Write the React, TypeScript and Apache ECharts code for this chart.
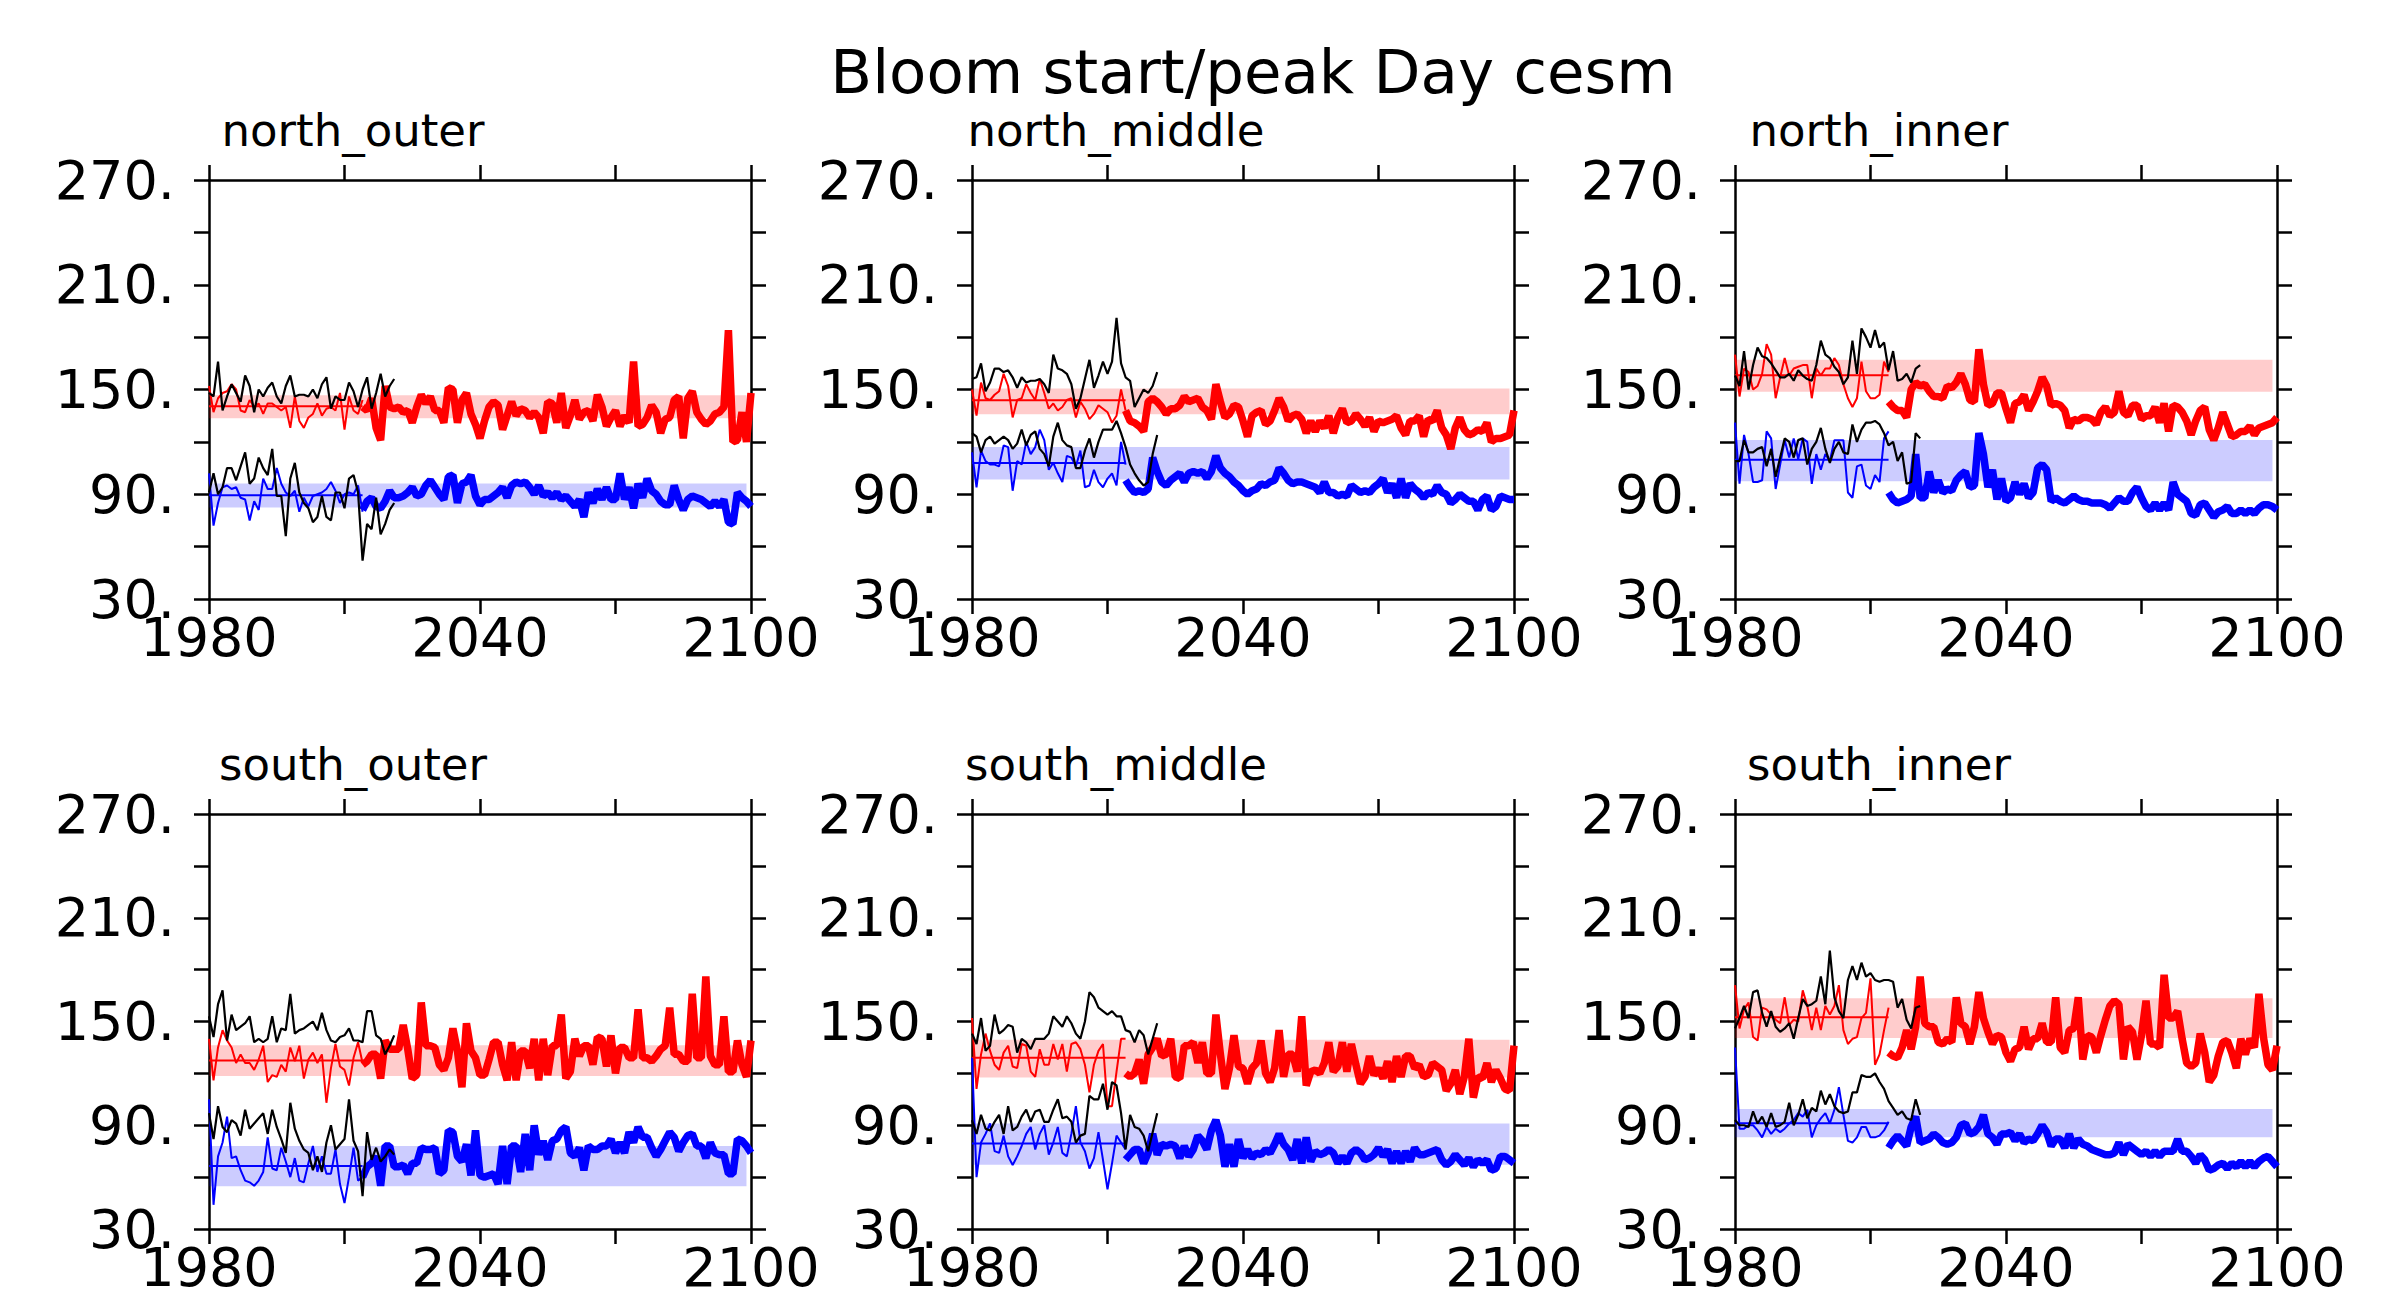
import React, { useEffect, useRef } from "react";
import * as echarts from "echarts";

// ---------- data ----------
const panelNames = ["north_outer", "north_middle", "north_inner", "south_outer", "south_middle", "south_inner"];
const mainTitle = "Bloom start/peak Day cesm";

const thinStartYear = 1980; // thin model / obs lines 1980-2014
const blackStartYear = 1980; // black lines 1980-2021
const thickStartYear = 2014; // thick projections 2014-2100
const meanEndYear = 2014;
const bandEndYear = 2099;

const xTicks = [1980, 2010, 2040, 2070, 2100];
const xLabelled = [1980, 2040, 2100];
const yTicks = [30, 60, 90, 120, 150, 180, 210, 240, 270];
const yLabelled = [30, 90, 150, 210, 270];

// mean and +/- band per panel
const redMean = [140.4, 143.8, 158.1, 127.5, 129, 152.5];
const redLow = [133.6, 135.8, 148.7, 118.5, 117.6, 140.5];
const redHigh = [146.7, 150.6, 167, 136.3, 139.5, 163.4];
const blueMean = [89.4, 107.9, 109.8, 66.5, 79.5, 91.1];
const blueLow = [82.4, 98.5, 97.5, 54.7, 67.1, 83.1];
const blueHigh = [96.1, 117, 121.1, 78, 91, 99.4];

// ---- north_outer ----
const noThinRed = [152,137,145,148,149,153,150,138,137,144,140,142,136,142,142,140,138,140,128,146,132,128,134,136,142,135,139,140,138,148,127,146,138,136,144];
const noThinBlue = [102,72,85,94,95,93,94,88,87,75,86,81,99,93,93,105,96,91,89,92,80,88,83,89,90,91,93,97,92,85,90,91,90,95,80];
const noBlackUpper = [148,146,166,138,146,153,148,143,158,152,137,150,146,151,154,146,142,152,158,146,147,147,146,150,145,153,157,139,146,144,144,154,149,140,150,157,139,148,159,146,152,156];
const noBlackLower = [91,102,90,94,105,105,98,106,114,96,99,111,105,101,116,89,89,66,99,108,91,85,82,74,77,89,77,75,91,91,82,99,101,91,52,73,70,88,67,73,81,85];
const noThickRed = [140,138,145,128,121,152,140,139,140,137,138,131,140,147,142,146,138,138,131,151,150,131,144,148,136,130,122,132,140,143,141,127,135,143,135,139,138,134,137,134,125,143,142,131,148,128,135,144,133,137,138,132,147,140,129,134,138,129,135,131,166,129,130,134,141,137,125,133,134,144,146,122,145,149,137,133,130,132,136,137,140,184,120,121,137,120,148];
const noThickBlue = [81,86,88,83,82,86,92,88,88,89,91,94,89,90,95,98,94,90,87,100,101,85,96,97,101,89,84,87,87,89,91,94,88,95,97,96,97,94,90,95,89,91,88,91,87,89,86,83,87,77,91,85,93,87,94,87,87,102,87,94,82,96,88,99,92,90,86,84,84,95,87,81,87,89,88,87,85,83,86,83,87,74,73,91,88,86,83];

// ---- north_middle ----
const nmThinRed = [150,135,154,145,144,147,149,159,152,134,144,145,153,148,144,156,148,139,142,138,140,144,145,134,143,139,133,136,141,139,137,131,135,150,138];
const nmThinBlue = [114,94,115,109,107,107,106,118,117,92,109,107,120,113,117,127,121,104,108,102,97,112,111,106,115,94,95,104,97,94,99,102,95,120,107];
const nmBlackUpper = [156,157,165,149,154,162,162,160,161,157,151,157,154,155,155,156,153,148,170,162,161,159,153,139,145,156,167,151,158,166,159,166,191,165,157,155,140,145,150,148,152,160];
const nmBlackLower = [125,123,114,121,123,119,121,123,121,116,119,127,118,124,126,116,113,106,123,131,121,118,117,105,105,115,122,111,120,127,127,127,132,125,117,107,102,98,95,97,113,124];
const nmThickRed = [138,132,131,129,126,143,145,143,140,136,139,139,141,146,143,144,145,140,138,133,153,143,134,136,141,140,132,123,135,137,138,130,132,138,145,140,132,135,136,133,125,132,126,132,128,135,125,134,139,131,132,136,133,129,134,126,132,131,132,133,135,128,124,132,132,135,123,133,132,138,128,124,116,128,134,127,124,125,127,126,131,120,122,122,123,124,138];
const nmThickBlue = [98,94,91,92,91,93,111,103,97,95,98,100,102,97,102,103,102,103,99,103,112,105,102,100,97,95,92,90,92,93,96,95,97,98,105,102,98,96,97,97,96,95,94,91,97,91,91,89,90,89,95,93,91,92,91,94,96,99,91,96,88,99,88,96,93,91,88,91,90,95,91,90,85,87,90,88,86,86,81,87,89,81,83,89,88,87,87];

// ---- north_inner ----
const niThinRed = [170,146,162,160,150,152,159,176,170,145,157,168,158,162,163,164,164,145,162,158,162,162,168,164,153,145,140,145,166,149,145,145,147,166,160];
const niThinBlue = [131,96,124,113,97,97,98,126,122,93,107,121,111,122,110,122,120,96,113,104,113,109,121,121,121,91,88,106,107,95,93,101,97,122,126];
const niBlackUpper = [158,152,172,150,164,174,169,168,165,161,157,157,159,155,161,158,156,155,164,178,170,168,163,160,153,157,178,159,185,180,174,184,174,177,161,172,155,156,159,154,162,164];
const niBlackLower = [109,109,121,114,114,116,117,106,116,100,111,122,120,111,121,122,107,116,120,128,116,108,116,120,114,113,130,120,127,131,131,132,130,125,118,120,109,114,96,97,125,122];
const niThickRed = [143,140,138,138,134,150,154,152,153,149,146,146,145,152,151,154,159,153,144,143,173,153,141,142,148,148,139,131,142,143,147,138,143,149,157,152,141,142,141,138,128,133,132,134,134,133,130,137,140,135,137,149,137,135,141,141,133,135,135,140,131,142,126,141,140,137,132,124,132,138,140,127,121,128,137,130,123,124,126,126,129,124,128,129,130,131,134];
const niThickBlue = [91,87,85,86,87,89,113,88,88,103,91,98,91,93,92,98,101,103,94,95,125,113,94,104,87,99,86,88,97,90,96,88,91,105,107,104,86,88,86,85,87,89,87,86,86,85,85,85,84,82,85,88,86,86,91,94,88,83,81,85,81,85,81,97,90,88,86,79,78,84,85,81,77,80,81,83,79,79,81,79,81,79,82,84,84,83,81];

// ---- south_outer ----
const soThinRed = [140,116,135,145,139,135,126,131,126,126,122,128,136,115,119,118,125,121,135,127,136,117,128,132,126,131,103,123,137,124,122,113,129,138,126];
const soThinBlue = [105,44,72,80,95,71,72,64,58,57,55,58,63,83,65,64,77,69,60,71,58,57,68,78,63,72,62,62,76,56,45,60,77,58,60];
const soBlackUpper = [153,141,160,168,139,154,145,147,149,153,138,140,138,140,153,138,146,145,166,143,145,146,148,150,145,155,145,139,138,141,142,146,139,139,138,156,156,142,140,131,136,142];
const soBlackLower = [97,82,101,89,86,93,91,84,99,88,91,94,97,85,99,89,82,74,103,88,81,76,74,64,72,63,80,90,76,79,82,105,81,75,49,86,70,77,69,72,76,73];
const soThickRed = [125,127,131,131,117,139,134,134,134,148,134,117,119,161,136,136,135,125,122,129,146,133,112,149,133,129,119,119,128,138,138,125,116,138,116,133,133,123,140,116,140,119,136,136,154,117,121,140,130,136,136,125,141,140,124,142,120,135,135,129,129,157,129,129,127,130,134,136,158,131,131,127,127,166,129,129,176,130,125,125,153,121,121,139,125,118,139];
const soThickBlue = [60,66,68,72,55,78,78,66,66,67,62,68,68,77,76,76,77,62,64,87,86,72,69,79,61,87,61,60,61,62,56,78,56,78,78,63,85,64,90,73,81,70,81,82,87,89,74,72,77,64,78,76,76,78,78,82,74,80,74,86,80,89,83,83,77,72,76,81,86,83,75,80,84,85,78,78,71,80,74,73,73,62,62,82,81,78,74];

// ---- south_middle ----
const smThinRed = [152,111,131,143,133,125,122,132,136,124,123,137,136,121,118,134,125,125,137,128,137,121,137,138,134,125,109,125,133,137,101,101,121,140,140];
const smThinBlue = [129,60,80,85,91,75,74,84,72,67,72,78,85,89,76,85,90,73,80,89,74,72,85,101,80,75,65,71,86,70,53,68,84,80,76];
const smBlackUpper = [143,137,152,133,136,154,143,145,148,147,132,140,138,134,140,140,140,143,153,150,147,153,149,143,140,150,167,164,158,156,154,156,153,153,145,144,138,145,142,131,140,149];
const smBlackLower = [93,85,96,88,87,92,96,85,101,87,89,95,99,92,98,99,92,92,99,105,94,95,92,80,84,85,107,105,105,114,99,115,113,97,76,96,89,88,84,75,86,97];
const smThickRed = [120,118,120,128,114,131,135,140,130,131,140,118,117,136,136,138,126,138,120,120,154,131,111,123,142,124,123,114,123,126,139,120,115,123,145,118,131,131,121,153,113,121,122,120,126,138,121,124,138,121,137,125,114,118,130,119,123,117,127,115,130,118,130,130,123,125,118,119,126,124,122,110,114,122,108,118,140,106,118,117,126,115,122,117,111,110,136];
const smThickBlue = [70,73,76,76,68,74,85,73,79,78,79,78,71,78,72,76,84,81,76,87,93,84,66,79,66,82,71,76,71,74,73,76,74,79,85,79,76,70,82,68,83,69,75,73,74,76,74,68,72,68,74,76,74,70,71,73,77,72,76,68,75,68,75,69,77,73,73,74,75,76,70,67,69,73,70,67,71,66,70,68,70,64,65,72,72,70,68];

// ---- south_inner ----
const siThinRed = [171,146,157,161,141,139,158,157,154,151,149,164,148,151,150,168,159,145,158,145,159,154,159,171,145,137,140,141,152,155,175,125,131,145,158];
const siThinBlue = [135,88,88,90,90,87,83,89,85,88,86,88,91,93,97,95,99,83,90,94,97,91,99,112,96,81,80,83,89,89,83,83,84,87,92];
const siBlackUpper = [146,152,159,152,167,168,155,147,156,147,144,146,149,140,152,163,159,160,162,176,160,191,164,156,152,174,182,174,184,176,178,174,173,174,174,173,158,163,151,146,158,159];
const siBlackLower = [93,90,90,89,98,91,95,89,97,89,90,92,103,90,96,105,94,100,98,110,102,108,101,98,97,98,109,109,119,118,118,120,115,111,104,100,96,98,94,93,105,96];
const siThickRed = [132,130,129,135,145,134,147,176,149,147,147,138,137,140,138,164,149,147,137,147,167,152,144,137,142,141,132,127,134,135,147,134,140,140,149,138,138,164,135,132,145,146,164,128,142,141,132,142,151,159,162,160,128,147,144,128,142,162,137,137,135,177,152,152,156,140,126,124,126,143,132,115,119,130,138,139,132,123,140,131,140,135,166,141,125,122,136];
const siThickBlue = [77,81,84,81,78,89,95,80,81,82,85,83,80,79,80,83,90,91,85,86,89,96,85,83,79,85,85,86,81,85,80,82,81,85,90,86,78,82,82,77,85,77,82,79,78,76,75,74,73,73,74,80,73,79,77,75,73,75,72,75,72,75,75,75,82,75,75,72,68,73,70,64,65,67,68,65,68,66,69,66,69,66,69,71,72,69,66];

const thinRedSets = [noThinRed, nmThinRed, niThinRed, soThinRed, smThinRed, siThinRed];
const thinBlueSets = [noThinBlue, nmThinBlue, niThinBlue, soThinBlue, smThinBlue, siThinBlue];
const blackUpperSets = [noBlackUpper, nmBlackUpper, niBlackUpper, soBlackUpper, smBlackUpper, siBlackUpper];
const blackLowerSets = [noBlackLower, nmBlackLower, niBlackLower, soBlackLower, smBlackLower, siBlackLower];
const thickRedSets = [noThickRed, nmThickRed, niThickRed, soThickRed, smThickRed, siThickRed];
const thickBlueSets = [noThickBlue, nmThickBlue, niThickBlue, soThickBlue, smThickBlue, siThickBlue];

// ---------- layout / style ----------
const FONT = "DejaVu Sans";
const W = 2405;
const H = 1294;
const gridLefts = [209, 972, 1735];
const gridTops = [180, 814];
const gridW = 542;
const gridH = 419;
const RED = "#ff0000";
const BLUE = "#0000ff";

const toPairs = (vals: number[], start: number) => vals.map((v, i) => [start + i, v]);

function buildOption() {
  const grid: any[] = [];
  const xAxis: any[] = [];
  const yAxis: any[] = [];
  const series: any[] = [];
  const graphic: any[] = [];

  const axisLine = { show: true, onZero: false, lineStyle: { color: "#000", width: 2.5 } };
  const axisTick = { show: true, inside: false, length: 15, lineStyle: { color: "#000", width: 2.5 } };

  graphic.push({
    type: "text",
    x: 1253,
    y: 71,
    style: { text: mainTitle, font: `61px "${FONT}"`, fill: "#000", align: "center", verticalAlign: "middle" },
  });

  panelNames.forEach((name, p) => {
    const col = p % 3;
    const row = Math.floor(p / 3);
    const left = gridLefts[col];
    const top = gridTops[row];
    grid.push({ left, top, width: gridW, height: gridH, containLabel: false, show: false });

    const xBase = { type: "value", gridIndex: p, min: xTicks[0], max: xTicks[xTicks.length - 1], interval: xTicks[1] - xTicks[0], splitLine: { show: false }, axisLine, axisTick };
    xAxis.push({
      ...xBase,
      position: "bottom",
      axisLabel: {
        show: true,
        margin: 16,
        fontSize: 54,
        lineHeight: 44,
        fontFamily: FONT,
        color: "#000",
        showMinLabel: true,
        showMaxLabel: true,
        formatter: (v: number) => (xLabelled.includes(v) ? String(v) : ""),
      },
    });
    xAxis.push({ ...xBase, position: "top", axisLabel: { show: false } });

    const yBase = { type: "value", gridIndex: p, min: yTicks[0], max: yTicks[yTicks.length - 1], interval: yTicks[1] - yTicks[0], splitLine: { show: false }, axisLine, axisTick };
    yAxis.push({
      ...yBase,
      position: "left",
      axisLabel: {
        show: true,
        margin: 34,
        fontSize: 54,
        fontFamily: FONT,
        color: "#000",
        showMinLabel: true,
        showMaxLabel: true,
        formatter: (v: number) => (yLabelled.includes(v) ? `${v}.` : ""),
      },
    });
    yAxis.push({ ...yBase, position: "right", axisLabel: { show: false } });

    const xi = p * 2;
    const yi = p * 2;
    const common = { type: "line", xAxisIndex: xi, yAxisIndex: yi, symbol: "none", showSymbol: false, silent: true, animation: false };

    // mean lines with bands
    series.push({
      ...common,
      z: 2,
      data: [[thinStartYear, redMean[p]], [meanEndYear, redMean[p]]],
      lineStyle: { color: RED, width: 2 },
      markArea: {
        silent: true,
        itemStyle: { color: "rgba(255,0,0,0.2)", borderWidth: 0 },
        data: [[{ coord: [thinStartYear, redLow[p]] }, { coord: [bandEndYear, redHigh[p]] }]],
      },
    });
    series.push({
      ...common,
      z: 2,
      data: [[thinStartYear, blueMean[p]], [meanEndYear, blueMean[p]]],
      lineStyle: { color: BLUE, width: 2 },
      markArea: {
        silent: true,
        itemStyle: { color: "rgba(0,0,255,0.2)", borderWidth: 0 },
        data: [[{ coord: [thinStartYear, blueLow[p]] }, { coord: [bandEndYear, blueHigh[p]] }]],
      },
    });
    series.push({ ...common, z: 3, data: toPairs(thinRedSets[p], thinStartYear), lineStyle: { color: RED, width: 2, join: "bevel" } });
    series.push({ ...common, z: 3, data: toPairs(thinBlueSets[p], thinStartYear), lineStyle: { color: BLUE, width: 2, join: "bevel" } });
    series.push({ ...common, z: 4, data: toPairs(thickRedSets[p], thickStartYear), lineStyle: { color: RED, width: 7.5, join: "bevel" } });
    series.push({ ...common, z: 4, data: toPairs(thickBlueSets[p], thickStartYear), lineStyle: { color: BLUE, width: 7.5, join: "bevel" } });
    series.push({ ...common, z: 5, data: toPairs(blackUpperSets[p], blackStartYear), lineStyle: { color: "#000", width: 2.2, join: "bevel" } });
    series.push({ ...common, z: 5, data: toPairs(blackLowerSets[p], blackStartYear), lineStyle: { color: "#000", width: 2.2, join: "bevel" } });

    graphic.push({
      type: "text",
      x: left + 144,
      y: top - 50,
      style: { text: name, font: `45px "${FONT}"`, fill: "#000", align: "center", verticalAlign: "middle" },
    });
  });

  return {
    animation: false,
    backgroundColor: "#fff",
    textStyle: { fontFamily: FONT },
    grid,
    xAxis,
    yAxis,
    series,
    graphic,
  };
}

export default function App() {
  const ref = useRef<HTMLDivElement | null>(null);
  useEffect(() => {
    if (!ref.current) return;
    const chart = echarts.init(ref.current, null, { renderer: "svg", width: W, height: H });
    chart.setOption(buildOption() as any);
    return () => chart.dispose();
  }, []);
  return <div ref={ref} style={{ position: "absolute", left: 0, top: 0, width: W, height: H, background: "#fff" }} />;
}
